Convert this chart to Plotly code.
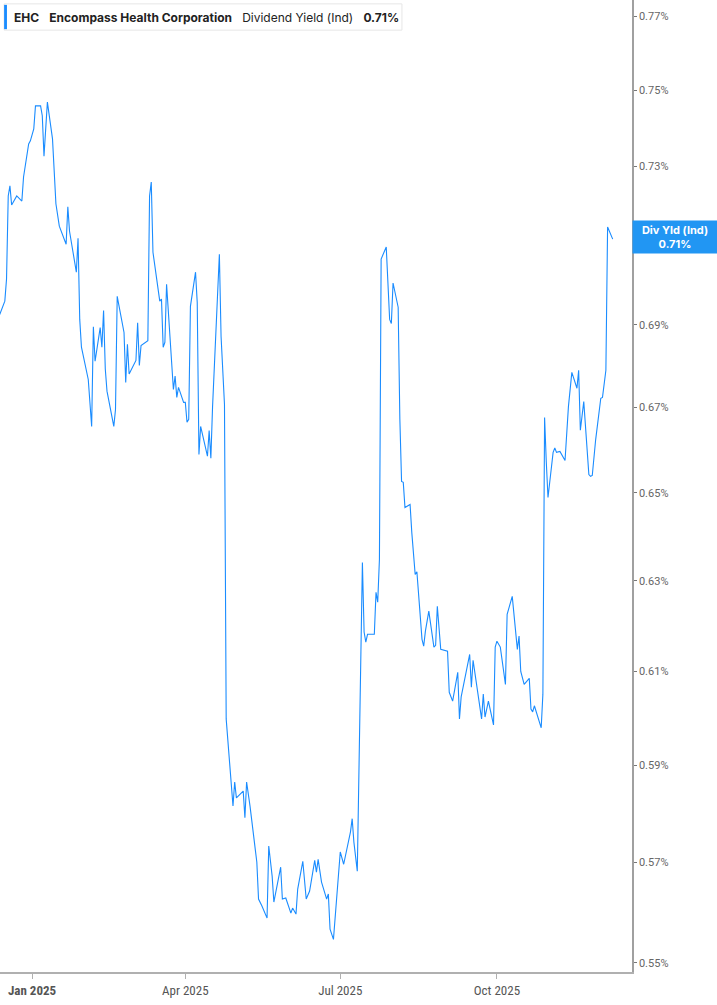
import plotly.graph_objects as go
import numpy as np

# EHC dividend yield (indicated), in percent
dates = [
    "2024-12-13", "2024-12-16", "2024-12-17", "2024-12-18", "2024-12-19", "2024-12-20",
    "2024-12-23", "2024-12-26", "2024-12-27", "2024-12-30", "2024-12-31", "2025-01-02",
    "2025-01-03", "2025-01-06", "2025-01-07", "2025-01-08", "2025-01-10", "2025-01-13",
    "2025-01-15", "2025-01-17", "2025-01-21", "2025-01-22", "2025-01-23", "2025-01-27",
    "2025-01-28", "2025-01-29", "2025-01-30", "2025-02-03", "2025-02-05", "2025-02-06",
    "2025-02-07", "2025-02-10", "2025-02-11", "2025-02-12", "2025-02-13", "2025-02-14",
    "2025-02-18", "2025-02-19", "2025-02-20", "2025-02-24", "2025-02-25", "2025-02-26",
    "2025-02-27", "2025-03-03", "2025-03-04", "2025-03-05", "2025-03-06", "2025-03-10",
    "2025-03-11", "2025-03-12", "2025-03-13", "2025-03-17", "2025-03-18", "2025-03-19",
    "2025-03-20", "2025-03-21", "2025-03-25", "2025-03-26", "2025-03-27", "2025-03-28",
    "2025-03-31", "2025-04-01", "2025-04-02", "2025-04-03", "2025-04-04", "2025-04-07",
    "2025-04-08", "2025-04-09", "2025-04-10", "2025-04-14", "2025-04-15", "2025-04-16",
    "2025-04-17", "2025-04-21", "2025-04-22", "2025-04-24", "2025-04-25", "2025-04-28",
    "2025-04-29", "2025-04-30", "2025-05-01", "2025-05-05", "2025-05-06", "2025-05-07",
    "2025-05-08", "2025-05-09", "2025-05-13", "2025-05-14", "2025-05-16", "2025-05-19",
    "2025-05-20", "2025-05-22", "2025-05-23", "2025-05-27", "2025-05-28", "2025-05-30",
    "2025-06-02", "2025-06-03", "2025-06-05", "2025-06-06", "2025-06-09", "2025-06-11",
    "2025-06-13", "2025-06-16", "2025-06-17", "2025-06-18", "2025-06-20", "2025-06-23",
    "2025-06-24", "2025-06-25", "2025-06-27", "2025-07-01", "2025-07-03", "2025-07-07",
    "2025-07-08", "2025-07-09", "2025-07-11", "2025-07-14", "2025-07-15", "2025-07-16",
    "2025-07-17", "2025-07-21", "2025-07-22", "2025-07-23", "2025-07-24", "2025-07-25",
    "2025-07-28", "2025-07-30", "2025-07-31", "2025-08-01", "2025-08-04", "2025-08-05",
    "2025-08-06", "2025-08-07", "2025-08-08", "2025-08-11", "2025-08-12", "2025-08-14",
    "2025-08-15", "2025-08-18", "2025-08-19", "2025-08-20", "2025-08-22", "2025-08-25",
    "2025-08-26", "2025-08-27", "2025-08-29", "2025-09-02", "2025-09-03", "2025-09-05",
    "2025-09-08", "2025-09-09", "2025-09-10", "2025-09-15", "2025-09-16", "2025-09-17",
    "2025-09-22", "2025-09-23", "2025-09-24", "2025-09-26", "2025-09-29", "2025-09-30",
    "2025-10-01", "2025-10-03", "2025-10-06", "2025-10-07", "2025-10-10", "2025-10-13",
    "2025-10-14", "2025-10-15", "2025-10-17", "2025-10-20", "2025-10-21", "2025-10-22",
    "2025-10-23", "2025-10-27", "2025-10-28", "2025-10-29", "2025-10-30", "2025-10-31",
    "2025-11-03", "2025-11-04", "2025-11-05", "2025-11-07", "2025-11-10", "2025-11-11",
    "2025-11-12", "2025-11-14", "2025-11-17", "2025-11-18", "2025-11-19", "2025-11-21",
    "2025-11-24", "2025-11-25", "2025-11-26", "2025-11-28", "2025-12-01", "2025-12-02",
    "2025-12-03", "2025-12-04", "2025-12-05", "2025-12-08",
]
div_yield = [
    0.6925, 0.6958, 0.7013, 0.7223, 0.7249, 0.7200,
    0.7223, 0.7210, 0.7272, 0.7358, 0.7366, 0.7397,
    0.7458, 0.7458, 0.7432, 0.7326, 0.7468, 0.7371,
    0.7203, 0.7146, 0.7100, 0.7195, 0.7133, 0.7030,
    0.7115, 0.6913, 0.6845, 0.6767, 0.6655, 0.6895,
    0.6811, 0.6893, 0.6845, 0.6935, 0.6792, 0.6739,
    0.6655, 0.6695, 0.6970, 0.6881, 0.6760, 0.6852,
    0.6780, 0.6813, 0.6905, 0.6801, 0.6849, 0.6861,
    0.7223, 0.7259, 0.7080, 0.6958, 0.6963, 0.6845,
    0.6857, 0.7000, 0.6743, 0.6775, 0.6724, 0.6748,
    0.6712, 0.6712, 0.6665, 0.6672, 0.6945, 0.7030,
    0.6955, 0.6589, 0.6655, 0.6585, 0.6645, 0.6580,
    0.6702, 0.7075, 0.6871, 0.6707, 0.5998, 0.5871,
    0.5815, 0.5865, 0.5832, 0.5846, 0.5791, 0.5865,
    0.5840, 0.5815, 0.5700, 0.5626, 0.5612, 0.5588,
    0.5733, 0.5672, 0.5620, 0.5690, 0.5626, 0.5628,
    0.5598, 0.5608, 0.5596, 0.5646, 0.5702, 0.5626,
    0.5642, 0.5704, 0.5680, 0.5706, 0.5660, 0.5626,
    0.5636, 0.5566, 0.5546, 0.5721, 0.5696, 0.5762,
    0.5789, 0.5741, 0.5682, 0.6341, 0.6186, 0.6164,
    0.6181, 0.6181, 0.6274, 0.6252, 0.6348, 0.7063,
    0.7093, 0.6913, 0.6903, 0.7003, 0.6943, 0.6672,
    0.6526, 0.6524, 0.6466, 0.6473, 0.6409, 0.6314,
    0.6320, 0.6170, 0.6155, 0.6188, 0.6232, 0.6153,
    0.6157, 0.6243, 0.6148, 0.6144, 0.6055, 0.6036,
    0.6098, 0.5998, 0.6045, 0.6137, 0.6066, 0.6124,
    0.5998, 0.6051, 0.6002, 0.6036, 0.5985, 0.6153,
    0.6166, 0.6153, 0.6072, 0.6225, 0.6265, 0.6148,
    0.6177, 0.6100, 0.6072, 0.6085, 0.6019, 0.6013,
    0.6026, 0.5979, 0.6051, 0.6676, 0.6571, 0.6489,
    0.6594, 0.6604, 0.6594, 0.6596, 0.6575, 0.6629,
    0.6702, 0.6784, 0.6746, 0.6789, 0.6646, 0.6714,
    0.6542, 0.6538, 0.6540, 0.6624, 0.6722, 0.6724,
    0.6753, 0.6789, 0.7144, 0.7113,
]

# 0.71% sits under the last-value label, so it is left out
y_ticks = [0.55, 0.57, 0.59, 0.61, 0.63, 0.65, 0.67, 0.69, 0.73, 0.75, 0.77]
x_ticks = ["2025-01-01", "2025-04-01", "2025-07-01", "2025-10-01"]
x_labels = ["<b>Jan 2025</b>", "Apr 2025", "Jul 2025", "Oct 2025"]

ticker = "EHC"
company = "Encompass Health Corporation"
metric = "Dividend Yield (Ind)"
last_value = "0.71%"

blue = "#1a8cff"
font_fam = "Liberation Sans Narrow, Roboto Condensed, Roboto, sans-serif"
gap = "&nbsp;" * 3

fig = go.Figure()
fig.add_trace(go.Scatter(x=dates, y=div_yield, mode="lines",
                         line=dict(color=blue, width=1.1), showlegend=False,
                         hoverinfo="skip"))

fig.update_xaxes(range=["2024-12-13 04:00", "2025-12-19 08:00"],
                 tickvals=x_ticks, ticktext=x_labels,
                 showgrid=False, zeroline=False,
                 showline=True, linecolor="#b0b0b0", linewidth=2,
                 ticks="outside", ticklen=5, tickcolor="#b0b0b0",
                 tickfont=dict(family=font_fam, size=13, color="#555555"))
fig.update_yaxes(type="log", side="right",
                 range=[np.log10(0.5482), np.log10(0.7744)],
                 tickvals=y_ticks, ticktext=[f"{v:.2f}%" for v in y_ticks],
                 showgrid=False, zeroline=False,
                 showline=True, linecolor="#a0a0a0", linewidth=1.5,
                 ticks="outside", ticklen=3, tickcolor="#777777",
                 tickfont=dict(family="Roboto, sans-serif", size=11, color="#666666"))

# header box
fig.add_shape(type="rect", xref="paper", yref="paper",
              x0=0.0065, x1=0.636, y0=0.969, y1=0.996,
              line=dict(color="#e6e6e6", width=1), fillcolor="white")
fig.add_shape(type="rect", xref="paper", yref="paper",
              x0=0.0065, x1=0.011, y0=0.970, y1=0.995,
              line=dict(width=0), fillcolor=blue)
fig.add_annotation(xref="paper", yref="paper", x=0.019, y=0.9825,
                   xanchor="left", yanchor="middle", showarrow=False,
                   text=(f"<b>{ticker}</b>{gap}<b>{company}</b>"
                         f"{gap}{metric}{gap}<b>{last_value}</b>"),
                   font=dict(family="Inter, sans-serif", size=12, color="#222222"))

# last value label on the right axis
fig.add_annotation(xref="paper", yref="y", x=1.0, y=np.log10(div_yield[-1]) + 0.0003,
                   xanchor="left", yanchor="middle", showarrow=False,
                   text=f"<b>Div Yld (Ind)<br>{last_value}</b>", align="center",
                   bgcolor="#2196f3", borderpad=2, width=80,
                   font=dict(family="Inter, sans-serif", size=11, color="white"))

fig.update_layout(width=717, height=1005,
                  margin=dict(l=0, r=85, t=0, b=33),
                  paper_bgcolor="white", plot_bgcolor="white")

fig.write_html("out.html", config={"displayModeBar": False},
               post_script="document.body.style.margin='0';")
